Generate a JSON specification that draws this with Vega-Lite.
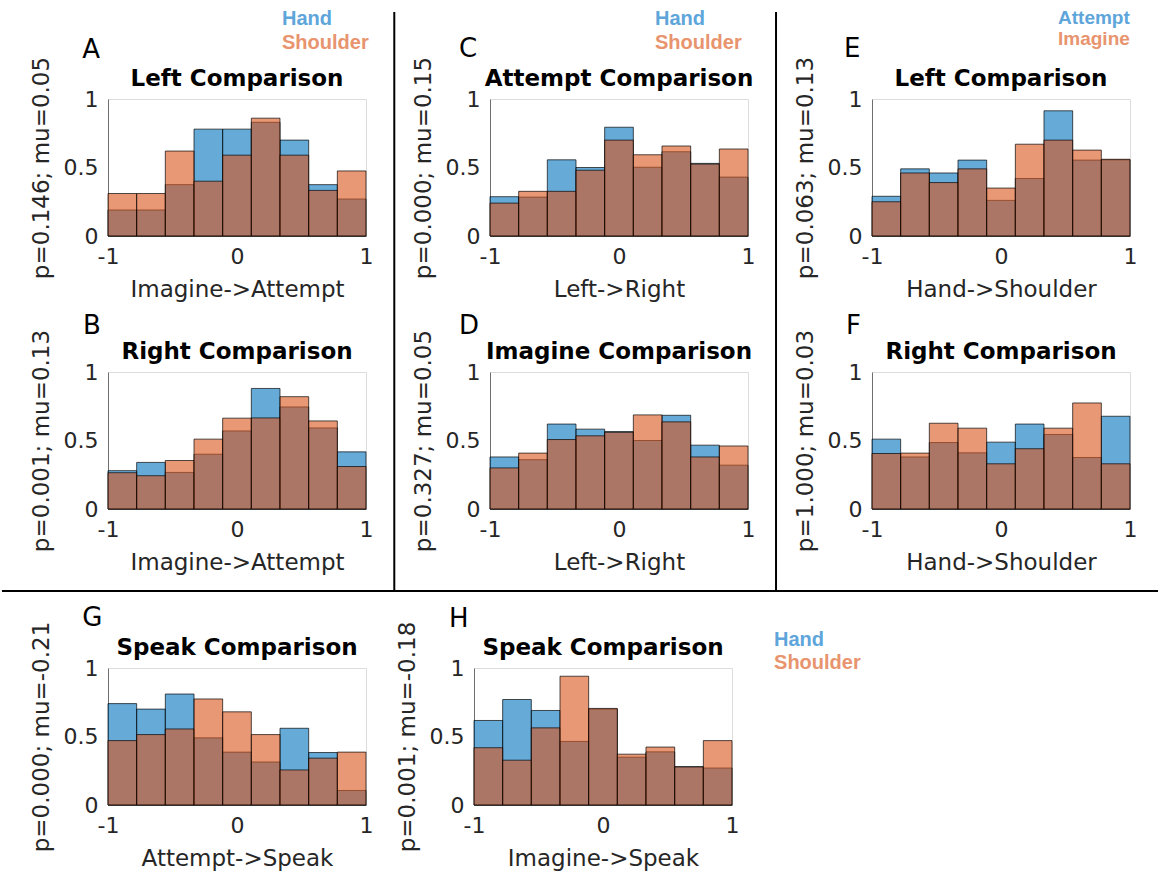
{
"$schema":"https://vega.github.io/schema/vega-lite/v6.json",
"padding":{"left":0,"top":8,"right":0,"bottom":0},
"background":"white",
"datasets":{"hist":[
{"p":"A","s":"Hand","lo":-1,"hi":-0.7778,"v":0.19},{"p":"A","s":"Hand","lo":-0.7778,"hi":-0.5556,"v":0.19},{"p":"A","s":"Hand","lo":-0.5556,"hi":-0.3333,"v":0.375},{"p":"A","s":"Hand","lo":-0.3333,"hi":-0.1111,"v":0.78},{"p":"A","s":"Hand","lo":-0.1111,"hi":0.1111,"v":0.78},{"p":"A","s":"Hand","lo":0.1111,"hi":0.3333,"v":0.83},{"p":"A","s":"Hand","lo":0.3333,"hi":0.5556,"v":0.70},{"p":"A","s":"Hand","lo":0.5556,"hi":0.7778,"v":0.375},{"p":"A","s":"Hand","lo":0.7778,"hi":1,"v":0.27},
{"p":"A","s":"Shoulder","lo":-1,"hi":-0.7778,"v":0.31},{"p":"A","s":"Shoulder","lo":-0.7778,"hi":-0.5556,"v":0.31},{"p":"A","s":"Shoulder","lo":-0.5556,"hi":-0.3333,"v":0.62},{"p":"A","s":"Shoulder","lo":-0.3333,"hi":-0.1111,"v":0.40},{"p":"A","s":"Shoulder","lo":-0.1111,"hi":0.1111,"v":0.59},{"p":"A","s":"Shoulder","lo":0.1111,"hi":0.3333,"v":0.86},{"p":"A","s":"Shoulder","lo":0.3333,"hi":0.5556,"v":0.59},{"p":"A","s":"Shoulder","lo":0.5556,"hi":0.7778,"v":0.333},{"p":"A","s":"Shoulder","lo":0.7778,"hi":1,"v":0.475},
{"p":"B","s":"Hand","lo":-1,"hi":-0.7778,"v":0.28},{"p":"B","s":"Hand","lo":-0.7778,"hi":-0.5556,"v":0.34},{"p":"B","s":"Hand","lo":-0.5556,"hi":-0.3333,"v":0.267},{"p":"B","s":"Hand","lo":-0.3333,"hi":-0.1111,"v":0.40},{"p":"B","s":"Hand","lo":-0.1111,"hi":0.1111,"v":0.57},{"p":"B","s":"Hand","lo":0.1111,"hi":0.3333,"v":0.88},{"p":"B","s":"Hand","lo":0.3333,"hi":0.5556,"v":0.745},{"p":"B","s":"Hand","lo":0.5556,"hi":0.7778,"v":0.592},{"p":"B","s":"Hand","lo":0.7778,"hi":1,"v":0.417},
{"p":"B","s":"Shoulder","lo":-1,"hi":-0.7778,"v":0.265},{"p":"B","s":"Shoulder","lo":-0.7778,"hi":-0.5556,"v":0.243},{"p":"B","s":"Shoulder","lo":-0.5556,"hi":-0.3333,"v":0.354},{"p":"B","s":"Shoulder","lo":-0.3333,"hi":-0.1111,"v":0.51},{"p":"B","s":"Shoulder","lo":-0.1111,"hi":0.1111,"v":0.663},{"p":"B","s":"Shoulder","lo":0.1111,"hi":0.3333,"v":0.665},{"p":"B","s":"Shoulder","lo":0.3333,"hi":0.5556,"v":0.82},{"p":"B","s":"Shoulder","lo":0.5556,"hi":0.7778,"v":0.643},{"p":"B","s":"Shoulder","lo":0.7778,"hi":1,"v":0.31},
{"p":"C","s":"Hand","lo":-1,"hi":-0.7778,"v":0.287},{"p":"C","s":"Hand","lo":-0.7778,"hi":-0.5556,"v":0.284},{"p":"C","s":"Hand","lo":-0.5556,"hi":-0.3333,"v":0.556},{"p":"C","s":"Hand","lo":-0.3333,"hi":-0.1111,"v":0.50},{"p":"C","s":"Hand","lo":-0.1111,"hi":0.1111,"v":0.794},{"p":"C","s":"Hand","lo":0.1111,"hi":0.3333,"v":0.502},{"p":"C","s":"Hand","lo":0.3333,"hi":0.5556,"v":0.615},{"p":"C","s":"Hand","lo":0.5556,"hi":0.7778,"v":0.53},{"p":"C","s":"Hand","lo":0.7778,"hi":1,"v":0.43},
{"p":"C","s":"Shoulder","lo":-1,"hi":-0.7778,"v":0.24},{"p":"C","s":"Shoulder","lo":-0.7778,"hi":-0.5556,"v":0.326},{"p":"C","s":"Shoulder","lo":-0.5556,"hi":-0.3333,"v":0.326},{"p":"C","s":"Shoulder","lo":-0.3333,"hi":-0.1111,"v":0.48},{"p":"C","s":"Shoulder","lo":-0.1111,"hi":0.1111,"v":0.70},{"p":"C","s":"Shoulder","lo":0.1111,"hi":0.3333,"v":0.593},{"p":"C","s":"Shoulder","lo":0.3333,"hi":0.5556,"v":0.657},{"p":"C","s":"Shoulder","lo":0.5556,"hi":0.7778,"v":0.525},{"p":"C","s":"Shoulder","lo":0.7778,"hi":1,"v":0.635},
{"p":"D","s":"Hand","lo":-1,"hi":-0.7778,"v":0.38},{"p":"D","s":"Hand","lo":-0.7778,"hi":-0.5556,"v":0.36},{"p":"D","s":"Hand","lo":-0.5556,"hi":-0.3333,"v":0.62},{"p":"D","s":"Hand","lo":-0.3333,"hi":-0.1111,"v":0.583},{"p":"D","s":"Hand","lo":-0.1111,"hi":0.1111,"v":0.565},{"p":"D","s":"Hand","lo":0.1111,"hi":0.3333,"v":0.50},{"p":"D","s":"Hand","lo":0.3333,"hi":0.5556,"v":0.684},{"p":"D","s":"Hand","lo":0.5556,"hi":0.7778,"v":0.466},{"p":"D","s":"Hand","lo":0.7778,"hi":1,"v":0.32},
{"p":"D","s":"Shoulder","lo":-1,"hi":-0.7778,"v":0.30},{"p":"D","s":"Shoulder","lo":-0.7778,"hi":-0.5556,"v":0.408},{"p":"D","s":"Shoulder","lo":-0.5556,"hi":-0.3333,"v":0.507},{"p":"D","s":"Shoulder","lo":-0.3333,"hi":-0.1111,"v":0.534},{"p":"D","s":"Shoulder","lo":-0.1111,"hi":0.1111,"v":0.56},{"p":"D","s":"Shoulder","lo":0.1111,"hi":0.3333,"v":0.687},{"p":"D","s":"Shoulder","lo":0.3333,"hi":0.5556,"v":0.636},{"p":"D","s":"Shoulder","lo":0.5556,"hi":0.7778,"v":0.38},{"p":"D","s":"Shoulder","lo":0.7778,"hi":1,"v":0.46},
{"p":"E","s":"Attempt","lo":-1,"hi":-0.7778,"v":0.29},{"p":"E","s":"Attempt","lo":-0.7778,"hi":-0.5556,"v":0.49},{"p":"E","s":"Attempt","lo":-0.5556,"hi":-0.3333,"v":0.46},{"p":"E","s":"Attempt","lo":-0.3333,"hi":-0.1111,"v":0.554},{"p":"E","s":"Attempt","lo":-0.1111,"hi":0.1111,"v":0.26},{"p":"E","s":"Attempt","lo":0.1111,"hi":0.3333,"v":0.42},{"p":"E","s":"Attempt","lo":0.3333,"hi":0.5556,"v":0.914},{"p":"E","s":"Attempt","lo":0.5556,"hi":0.7778,"v":0.554},{"p":"E","s":"Attempt","lo":0.7778,"hi":1,"v":0.556},
{"p":"E","s":"Imagine","lo":-1,"hi":-0.7778,"v":0.25},{"p":"E","s":"Imagine","lo":-0.7778,"hi":-0.5556,"v":0.46},{"p":"E","s":"Imagine","lo":-0.5556,"hi":-0.3333,"v":0.39},{"p":"E","s":"Imagine","lo":-0.3333,"hi":-0.1111,"v":0.49},{"p":"E","s":"Imagine","lo":-0.1111,"hi":0.1111,"v":0.35},{"p":"E","s":"Imagine","lo":0.1111,"hi":0.3333,"v":0.67},{"p":"E","s":"Imagine","lo":0.3333,"hi":0.5556,"v":0.70},{"p":"E","s":"Imagine","lo":0.5556,"hi":0.7778,"v":0.627},{"p":"E","s":"Imagine","lo":0.7778,"hi":1,"v":0.56},
{"p":"F","s":"Hand","lo":-1,"hi":-0.7778,"v":0.51},{"p":"F","s":"Hand","lo":-0.7778,"hi":-0.5556,"v":0.38},{"p":"F","s":"Hand","lo":-0.5556,"hi":-0.3333,"v":0.485},{"p":"F","s":"Hand","lo":-0.3333,"hi":-0.1111,"v":0.41},{"p":"F","s":"Hand","lo":-0.1111,"hi":0.1111,"v":0.488},{"p":"F","s":"Hand","lo":0.1111,"hi":0.3333,"v":0.62},{"p":"F","s":"Hand","lo":0.3333,"hi":0.5556,"v":0.544},{"p":"F","s":"Hand","lo":0.5556,"hi":0.7778,"v":0.376},{"p":"F","s":"Hand","lo":0.7778,"hi":1,"v":0.677},
{"p":"F","s":"Shoulder","lo":-1,"hi":-0.7778,"v":0.405},{"p":"F","s":"Shoulder","lo":-0.7778,"hi":-0.5556,"v":0.408},{"p":"F","s":"Shoulder","lo":-0.5556,"hi":-0.3333,"v":0.626},{"p":"F","s":"Shoulder","lo":-0.3333,"hi":-0.1111,"v":0.59},{"p":"F","s":"Shoulder","lo":-0.1111,"hi":0.1111,"v":0.33},{"p":"F","s":"Shoulder","lo":0.1111,"hi":0.3333,"v":0.44},{"p":"F","s":"Shoulder","lo":0.3333,"hi":0.5556,"v":0.59},{"p":"F","s":"Shoulder","lo":0.5556,"hi":0.7778,"v":0.774},{"p":"F","s":"Shoulder","lo":0.7778,"hi":1,"v":0.33},
{"p":"G","s":"Hand","lo":-1,"hi":-0.7778,"v":0.74},{"p":"G","s":"Hand","lo":-0.7778,"hi":-0.5556,"v":0.70},{"p":"G","s":"Hand","lo":-0.5556,"hi":-0.3333,"v":0.81},{"p":"G","s":"Hand","lo":-0.3333,"hi":-0.1111,"v":0.49},{"p":"G","s":"Hand","lo":-0.1111,"hi":0.1111,"v":0.386},{"p":"G","s":"Hand","lo":0.1111,"hi":0.3333,"v":0.314},{"p":"G","s":"Hand","lo":0.3333,"hi":0.5556,"v":0.56},{"p":"G","s":"Hand","lo":0.5556,"hi":0.7778,"v":0.383},{"p":"G","s":"Hand","lo":0.7778,"hi":1,"v":0.106},
{"p":"G","s":"Shoulder","lo":-1,"hi":-0.7778,"v":0.47},{"p":"G","s":"Shoulder","lo":-0.7778,"hi":-0.5556,"v":0.514},{"p":"G","s":"Shoulder","lo":-0.5556,"hi":-0.3333,"v":0.555},{"p":"G","s":"Shoulder","lo":-0.3333,"hi":-0.1111,"v":0.774},{"p":"G","s":"Shoulder","lo":-0.1111,"hi":0.1111,"v":0.68},{"p":"G","s":"Shoulder","lo":0.1111,"hi":0.3333,"v":0.514},{"p":"G","s":"Shoulder","lo":0.3333,"hi":0.5556,"v":0.256},{"p":"G","s":"Shoulder","lo":0.5556,"hi":0.7778,"v":0.342},{"p":"G","s":"Shoulder","lo":0.7778,"hi":1,"v":0.386},
{"p":"H","s":"Hand","lo":-1,"hi":-0.7778,"v":0.617},{"p":"H","s":"Hand","lo":-0.7778,"hi":-0.5556,"v":0.77},{"p":"H","s":"Hand","lo":-0.5556,"hi":-0.3333,"v":0.69},{"p":"H","s":"Hand","lo":-0.3333,"hi":-0.1111,"v":0.464},{"p":"H","s":"Hand","lo":-0.1111,"hi":0.1111,"v":0.70},{"p":"H","s":"Hand","lo":0.1111,"hi":0.3333,"v":0.349},{"p":"H","s":"Hand","lo":0.3333,"hi":0.5556,"v":0.388},{"p":"H","s":"Hand","lo":0.5556,"hi":0.7778,"v":0.28},{"p":"H","s":"Hand","lo":0.7778,"hi":1,"v":0.27},
{"p":"H","s":"Shoulder","lo":-1,"hi":-0.7778,"v":0.418},{"p":"H","s":"Shoulder","lo":-0.7778,"hi":-0.5556,"v":0.327},{"p":"H","s":"Shoulder","lo":-0.5556,"hi":-0.3333,"v":0.563},{"p":"H","s":"Shoulder","lo":-0.3333,"hi":-0.1111,"v":0.94},{"p":"H","s":"Shoulder","lo":-0.1111,"hi":0.1111,"v":0.705},{"p":"H","s":"Shoulder","lo":0.1111,"hi":0.3333,"v":0.371},{"p":"H","s":"Shoulder","lo":0.3333,"hi":0.5556,"v":0.423},{"p":"H","s":"Shoulder","lo":0.5556,"hi":0.7778,"v":0.278},{"p":"H","s":"Shoulder","lo":0.7778,"hi":1,"v":0.47}
]},
"vconcat":[
 {"vconcat":[
  {"hconcat":[
   {"width":258,"height":137,"data":{"name":"hist"},"layer":[
    {"transform":[{"filter":"datum.p=='A'"}],"mark":{"type":"bar","style":"hbar"},"encoding":{"x":{"field":"lo","type":"quantitative","scale":{"domain":[-1,1],"nice":false,"zero":false},"axis":{"title":"Imagine->Attempt","values":[-1,0,1],"labelExpr":"toString(datum.value)"}},"x2":{"field":"hi"},"y":{"field":"v","type":"quantitative","stack":null,"scale":{"domain":[0,1],"nice":false},"axis":{"title":"p=0.146; mu=0.05","values":[0,0.5,1],"labelExpr":"toString(datum.value)"}},"y2":{"datum":0},"color":{"field":"s","type":"nominal","scale":{"domain":["Hand","Shoulder","Attempt","Imagine"],"range":["#0072BD","#D95319","#0072BD","#D95319"]},"legend":null}}},
    {"data":{"values":[{}]},"mark":{"type":"text","style":"ptitle"},"encoding":{"x":{"datum":0},"y":{"datum":1.092},"text":{"value":"Left Comparison"}}},
    {"data":{"values":[{}]},"mark":{"type":"text","style":"letter"},"encoding":{"x":{"datum":-1.2},"y":{"datum":1.299},"text":{"value":"A"}}},
    {"data":{"values":[{}]},"mark":{"type":"text","style":"leg","color":"#5DA5DA"},"encoding":{"x":{"datum":0.349},"y":{"datum":1.54},"text":{"value":"Hand"}}},
    {"data":{"values":[{}]},"mark":{"type":"text","style":"leg","color":"#E8946E"},"encoding":{"x":{"datum":0.349},"y":{"datum":1.365},"text":{"value":"Shoulder"}}}
   ]},
   {"width":258,"height":137,"data":{"name":"hist"},"layer":[
    {"transform":[{"filter":"datum.p=='C'"}],"mark":{"type":"bar","style":"hbar"},"encoding":{"x":{"field":"lo","type":"quantitative","scale":{"domain":[-1,1],"nice":false,"zero":false},"axis":{"title":"Left->Right","values":[-1,0,1],"labelExpr":"toString(datum.value)"}},"x2":{"field":"hi"},"y":{"field":"v","type":"quantitative","stack":null,"scale":{"domain":[0,1],"nice":false},"axis":{"title":"p=0.000; mu=0.15","values":[0,0.5,1],"labelExpr":"toString(datum.value)"}},"y2":{"datum":0},"color":{"field":"s","type":"nominal","scale":{"domain":["Hand","Shoulder","Attempt","Imagine"],"range":["#0072BD","#D95319","#0072BD","#D95319"]},"legend":null}}},
    {"data":{"values":[{}]},"mark":{"type":"text","style":"ptitle"},"encoding":{"x":{"datum":0},"y":{"datum":1.092},"text":{"value":"Attempt Comparison"}}},
    {"data":{"values":[{}]},"mark":{"type":"text","style":"letter"},"encoding":{"x":{"datum":-1.24},"y":{"datum":1.307},"text":{"value":"C"}}},
    {"data":{"values":[{}]},"mark":{"type":"text","style":"leg","color":"#5DA5DA"},"encoding":{"x":{"datum":0.279},"y":{"datum":1.54},"text":{"value":"Hand"}}},
    {"data":{"values":[{}]},"mark":{"type":"text","style":"leg","color":"#E8946E"},"encoding":{"x":{"datum":0.279},"y":{"datum":1.365},"text":{"value":"Shoulder"}}},
    {"data":{"values":[{}]},"mark":{"type":"rule","style":"sep"},"encoding":{"x":{"datum":-1.742},"y":{"datum":1.635},"y2":{"datum":-2.591}}}
   ]},
   {"width":258,"height":137,"data":{"name":"hist"},"layer":[
    {"transform":[{"filter":"datum.p=='E'"}],"mark":{"type":"bar","style":"hbar"},"encoding":{"x":{"field":"lo","type":"quantitative","scale":{"domain":[-1,1],"nice":false,"zero":false},"axis":{"title":"Hand->Shoulder","values":[-1,0,1],"labelExpr":"toString(datum.value)"}},"x2":{"field":"hi"},"y":{"field":"v","type":"quantitative","stack":null,"scale":{"domain":[0,1],"nice":false},"axis":{"title":"p=0.063; mu=0.13","values":[0,0.5,1],"labelExpr":"toString(datum.value)"}},"y2":{"datum":0},"color":{"field":"s","type":"nominal","scale":{"domain":["Hand","Shoulder","Attempt","Imagine"],"range":["#0072BD","#D95319","#0072BD","#D95319"]},"legend":null}}},
    {"data":{"values":[{}]},"mark":{"type":"text","style":"ptitle"},"encoding":{"x":{"datum":0},"y":{"datum":1.092},"text":{"value":"Left Comparison"}}},
    {"data":{"values":[{}]},"mark":{"type":"text","style":"letter"},"encoding":{"x":{"datum":-1.217},"y":{"datum":1.307},"text":{"value":"E"}}},
    {"data":{"values":[{}]},"mark":{"type":"text","style":"leg","color":"#5DA5DA","fontSize":19},"encoding":{"x":{"datum":0.442},"y":{"datum":1.544},"text":{"value":"Attempt"}}},
    {"data":{"values":[{}]},"mark":{"type":"text","style":"leg","color":"#E8946E","fontSize":19},"encoding":{"x":{"datum":0.442},"y":{"datum":1.391},"text":{"value":"Imagine"}}},
    {"data":{"values":[{}]},"mark":{"type":"rule","style":"sep"},"encoding":{"x":{"datum":-1.744},"y":{"datum":1.635},"y2":{"datum":-2.591}}}
   ]}
  ],"spacing":124,"bounds":"flush"},
  {"hconcat":[
   {"width":258,"height":137,"data":{"name":"hist"},"layer":[
    {"transform":[{"filter":"datum.p=='B'"}],"mark":{"type":"bar","style":"hbar"},"encoding":{"x":{"field":"lo","type":"quantitative","scale":{"domain":[-1,1],"nice":false,"zero":false},"axis":{"title":"Imagine->Attempt","values":[-1,0,1],"labelExpr":"toString(datum.value)"}},"x2":{"field":"hi"},"y":{"field":"v","type":"quantitative","stack":null,"scale":{"domain":[0,1],"nice":false},"axis":{"title":"p=0.001; mu=0.13","values":[0,0.5,1],"labelExpr":"toString(datum.value)"}},"y2":{"datum":0},"color":{"field":"s","type":"nominal","scale":{"domain":["Hand","Shoulder","Attempt","Imagine"],"range":["#0072BD","#D95319","#0072BD","#D95319"]},"legend":null}}},
    {"data":{"values":[{}]},"mark":{"type":"text","style":"ptitle"},"encoding":{"x":{"datum":0},"y":{"datum":1.092},"text":{"value":"Right Comparison"}}},
    {"data":{"values":[{}]},"mark":{"type":"text","style":"letter"},"encoding":{"x":{"datum":-1.194},"y":{"datum":1.277},"text":{"value":"B"}}}
   ]},
   {"width":258,"height":137,"data":{"name":"hist"},"layer":[
    {"transform":[{"filter":"datum.p=='D'"}],"mark":{"type":"bar","style":"hbar"},"encoding":{"x":{"field":"lo","type":"quantitative","scale":{"domain":[-1,1],"nice":false,"zero":false},"axis":{"title":"Left->Right","values":[-1,0,1],"labelExpr":"toString(datum.value)"}},"x2":{"field":"hi"},"y":{"field":"v","type":"quantitative","stack":null,"scale":{"domain":[0,1],"nice":false},"axis":{"title":"p=0.327; mu=0.05","values":[0,0.5,1],"labelExpr":"toString(datum.value)"}},"y2":{"datum":0},"color":{"field":"s","type":"nominal","scale":{"domain":["Hand","Shoulder","Attempt","Imagine"],"range":["#0072BD","#D95319","#0072BD","#D95319"]},"legend":null}}},
    {"data":{"values":[{}]},"mark":{"type":"text","style":"ptitle"},"encoding":{"x":{"datum":0},"y":{"datum":1.092},"text":{"value":"Imagine Comparison"}}},
    {"data":{"values":[{}]},"mark":{"type":"text","style":"letter"},"encoding":{"x":{"datum":-1.24},"y":{"datum":1.277},"text":{"value":"D"}}}
   ]},
   {"width":258,"height":137,"data":{"name":"hist"},"layer":[
    {"transform":[{"filter":"datum.p=='F'"}],"mark":{"type":"bar","style":"hbar"},"encoding":{"x":{"field":"lo","type":"quantitative","scale":{"domain":[-1,1],"nice":false,"zero":false},"axis":{"title":"Hand->Shoulder","values":[-1,0,1],"labelExpr":"toString(datum.value)"}},"x2":{"field":"hi"},"y":{"field":"v","type":"quantitative","stack":null,"scale":{"domain":[0,1],"nice":false},"axis":{"title":"p=1.000; mu=0.03","values":[0,0.5,1],"labelExpr":"toString(datum.value)"}},"y2":{"datum":0},"color":{"field":"s","type":"nominal","scale":{"domain":["Hand","Shoulder","Attempt","Imagine"],"range":["#0072BD","#D95319","#0072BD","#D95319"]},"legend":null}}},
    {"data":{"values":[{}]},"mark":{"type":"text","style":"ptitle"},"encoding":{"x":{"datum":0},"y":{"datum":1.092},"text":{"value":"Right Comparison"}}},
    {"data":{"values":[{}]},"mark":{"type":"text","style":"letter"},"encoding":{"x":{"datum":-1.202},"y":{"datum":1.277},"text":{"value":"F"}}}
   ]}
  ],"spacing":124,"bounds":"flush"}
 ],"spacing":273,"bounds":"flush"},
 {"hconcat":[
   {"width":258,"height":137,"data":{"name":"hist"},"layer":[
    {"transform":[{"filter":"datum.p=='G'"}],"mark":{"type":"bar","style":"hbar"},"encoding":{"x":{"field":"lo","type":"quantitative","scale":{"domain":[-1,1],"nice":false,"zero":false},"axis":{"title":"Attempt->Speak","values":[-1,0,1],"labelExpr":"toString(datum.value)"}},"x2":{"field":"hi"},"y":{"field":"v","type":"quantitative","stack":null,"scale":{"domain":[0,1],"nice":false},"axis":{"title":"p=0.000; mu=-0.21","values":[0,0.5,1],"labelExpr":"toString(datum.value)"}},"y2":{"datum":0},"color":{"field":"s","type":"nominal","scale":{"domain":["Hand","Shoulder","Attempt","Imagine"],"range":["#0072BD","#D95319","#0072BD","#D95319"]},"legend":null}}},
    {"data":{"values":[{}]},"mark":{"type":"text","style":"ptitle"},"encoding":{"x":{"datum":0},"y":{"datum":1.092},"text":{"value":"Speak Comparison"}}},
    {"data":{"values":[{}]},"mark":{"type":"text","style":"letter"},"encoding":{"x":{"datum":-1.2},"y":{"datum":1.307},"text":{"value":"G"}}},
    {"data":{"values":[{}]},"mark":{"type":"rule","style":"sep"},"encoding":{"y":{"datum":1.562},"x":{"datum":-1.822},"x2":{"datum":7.14}}}
   ]},
   {"width":258,"height":137,"data":{"name":"hist"},"layer":[
    {"transform":[{"filter":"datum.p=='H'"}],"mark":{"type":"bar","style":"hbar"},"encoding":{"x":{"field":"lo","type":"quantitative","scale":{"domain":[-1,1],"nice":false,"zero":false},"axis":{"title":"Imagine->Speak","values":[-1,0,1],"labelExpr":"toString(datum.value)"}},"x2":{"field":"hi"},"y":{"field":"v","type":"quantitative","stack":null,"scale":{"domain":[0,1],"nice":false},"axis":{"title":"p=0.001; mu=-0.18","values":[0,0.5,1],"labelExpr":"toString(datum.value)"}},"y2":{"datum":0},"color":{"field":"s","type":"nominal","scale":{"domain":["Hand","Shoulder","Attempt","Imagine"],"range":["#0072BD","#D95319","#0072BD","#D95319"]},"legend":null}}},
    {"data":{"values":[{}]},"mark":{"type":"text","style":"ptitle"},"encoding":{"x":{"datum":0},"y":{"datum":1.092},"text":{"value":"Speak Comparison"}}},
    {"data":{"values":[{}]},"mark":{"type":"text","style":"letter"},"encoding":{"x":{"datum":-1.194},"y":{"datum":1.299},"text":{"value":"H"}}},
    {"data":{"values":[{}]},"mark":{"type":"text","style":"leg","color":"#5DA5DA"},"encoding":{"x":{"datum":1.326},"y":{"datum":1.161},"text":{"value":"Hand"}}},
    {"data":{"values":[{}]},"mark":{"type":"text","style":"leg","color":"#E8946E"},"encoding":{"x":{"datum":1.326},"y":{"datum":0.993},"text":{"value":"Shoulder"}}}
   ]}
 ],"spacing":108,"bounds":"flush"}
],
"spacing":569,
"bounds":"flush",
"config":{
 "view":{"stroke":"#dcdcdc","strokeWidth":1},
 "axis":{"grid":false,"ticks":false,"domainColor":"#6e6e6e","domainWidth":1,"labelFont":"DejaVu Sans","labelFontSize":22,"labelColor":"#262626","titleFont":"DejaVu Sans","titleFontSize":23,"titleFontWeight":"normal","titleColor":"#262626"},
 "axisX":{"labelPadding":10,"titlePadding":11,"labelFlush":false},
 "axisY":{"labelPadding":10,"titlePadding":10},
 "style":{
  "hbar":{"fillOpacity":0.6,"stroke":"#000000","strokeWidth":0.8,"strokeOpacity":0.85},
  "ptitle":{"font":"DejaVu Sans","fontSize":23,"fontWeight":"bold","align":"center","baseline":"alphabetic","fill":"#000000"},
  "letter":{"font":"DejaVu Sans","fontSize":26,"align":"left","baseline":"alphabetic","fill":"#000000"},
  "leg":{"font":"Liberation Sans","fontWeight":"bold","fontSize":20,"align":"left","baseline":"alphabetic"},
  "sep":{"stroke":"#1a1a1a","strokeWidth":2}
 }
}
}
